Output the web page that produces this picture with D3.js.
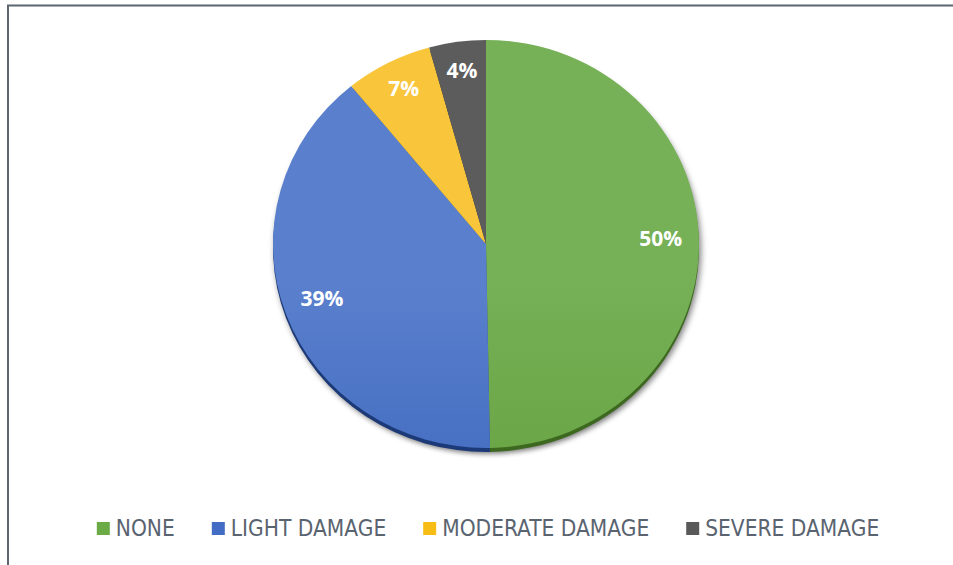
<!DOCTYPE html>
<html>
<head>
<meta charset="utf-8">
<script src="https://cdn.jsdelivr.net/npm/d3@7"></script>
<style>
  body { margin: 0; background: #fff; }
  svg { display: block; }
</style>
</head>
<body>
<div id="plotholder"></div>
<script>
const CATEGORIES = ['NONE', 'LIGHT DAMAGE', 'MODERATE DAMAGE', 'SEVERE DAMAGE']
const VALUES = [49.7, 39.4, 6.6, 4.3]
const COLOURS_TOP = ['#76b057', '#5a80cd', '#f9c53a', '#5c5c5c']
const COLOURS_BOTTOM = ['#5c9a31', '#2f5bb6', '#eeae00', '#4c4c4c']
const COLOURS_RIM = ['#3d6820', '#1d3a78', '#a87c00', '#333333']
const LEGEND_COLOURS = ['#6aab46', '#436cc4', '#f7bd16', '#595959']

const width = 953
const height = 565
const cx = 486
const cy = 244
const rx = 213
const ry = 204

const svg = d3.select('#plotholder').append('svg')
  .attr('width', width)
  .attr('height', height)

const defs = svg.append('defs')

// soft drop shadow under the pie
const shadow = defs.append('filter').attr('id', 'shadow')
  .attr('x', '-10%').attr('y', '-10%').attr('width', '120%').attr('height', '120%')
shadow.append('feGaussianBlur').attr('in', 'SourceAlpha').attr('stdDeviation', 3)
shadow.append('feOffset').attr('dx', 2).attr('dy', 6).attr('result', 'off')
shadow.append('feComponentTransfer').append('feFuncA').attr('type', 'linear').attr('slope', 0.5)

CATEGORIES.forEach((c, i) => {
  const g = defs.append('linearGradient').attr('id', 'grad' + i)
    .attr('gradientUnits', 'userSpaceOnUse')
    .attr('x1', cx).attr('y1', cy - ry)
    .attr('x2', cx).attr('y2', cy + ry)
  g.append('stop').attr('offset', '0%').attr('stop-color', COLOURS_TOP[i])
  g.append('stop').attr('offset', '100%').attr('stop-color', COLOURS_BOTTOM[i])
})

// frame lines (top and left)
svg.append('line').attr('x1', 7).attr('x2', width).attr('y1', 5.5).attr('y2', 5.5)
  .attr('stroke', '#5d6670').attr('stroke-width', 2)
svg.append('line').attr('x1', 8).attr('x2', 8).attr('y1', 5).attr('y2', height)
  .attr('stroke', '#5d6670').attr('stroke-width', 2)

const pie = d3.pie().sort(null).value(d => d)
const arcs = pie(VALUES)
const arc = d3.arc().innerRadius(0).outerRadius(rx)

// shadow layer
svg.append('g')
  .attr('transform', `translate(${cx},${cy}) scale(1,${ry / rx})`)
  .attr('filter', 'url(#shadow)')
  .append('circle').attr('r', rx).attr('fill', '#000')

// darker rim below the pie
svg.append('g')
  .attr('transform', `translate(${cx},${cy + 4}) scale(1,${ry / rx})`)
  .selectAll('path')
  .data(arcs)
  .enter()
  .append('path')
  .attr('d', arc)
  .attr('fill', (d, i) => COLOURS_RIM[i])

svg.append('g')
  .attr('transform', `translate(${cx},${cy}) scale(1,${ry / rx})`)
  .selectAll('path')
  .data(arcs)
  .enter()
  .append('path')
  .attr('d', arc)
  .attr('fill', (d, i) => `url(#grad${i})`)

// percentage labels
const total = d3.sum(VALUES)
const labelpos = d => {
  const a = (d.startAngle + d.endAngle) / 2
  const k = d.value > 20 ? 0.82 : 0.84
  return [cx + Math.sin(a) * rx * k, cy - Math.cos(a) * ry * k - 4]
}
svg.append('g').selectAll('text')
  .data(arcs)
  .enter()
  .append('text')
  .attr('x', d => labelpos(d)[0])
  .attr('y', d => labelpos(d)[1])
  .attr('text-anchor', 'middle')
  .attr('dominant-baseline', 'central')
  .attr('fill', '#fff')
  .attr('font-family', '"Open Sans", "DejaVu Sans", sans-serif')
  .attr('font-weight', 'bold')
  .attr('font-size', 21)
  .text(d => Math.round(d.value / total * 100) + '%')

// legend
const items = svg.append('g').selectAll('g')
  .data(CATEGORIES)
  .enter()
  .append('g')
items.append('rect')
  .attr('width', 13).attr('height', 13)
  .attr('y', 522)
  .attr('fill', (d, i) => LEGEND_COLOURS[i])
items.append('text')
  .attr('x', 19)
  .attr('y', 536)
  .attr('fill', '#5a6470')
  .attr('font-family', '"DejaVu Sans Condensed", "DejaVu Sans", sans-serif')
  .attr('font-stretch', 'condensed')
  .attr('font-size', 22.5)
  .text(d => d)

let xpos = 0
const positions = []
items.each(function () {
  positions.push(xpos)
  const w = 19 + d3.select(this).select('text').node().getComputedTextLength()
  xpos += w + 37
})
const legendwidth = xpos - 37
const x0 = 488 - legendwidth / 2
items.attr('transform', (d, i) => `translate(${x0 + positions[i]},0)`)
</script>
</body>
</html>
